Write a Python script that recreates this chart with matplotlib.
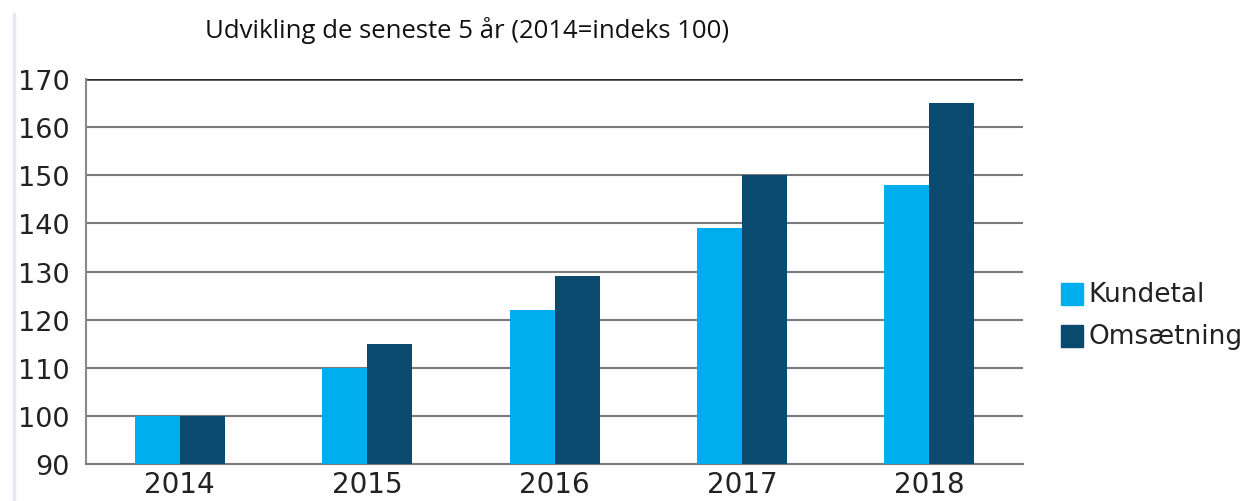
import matplotlib
matplotlib.use("Agg")
import matplotlib.pyplot as plt
from matplotlib.lines import Line2D
import numpy as np

years = ["2014", "2015", "2016", "2017", "2018"]
kundetal = [100, 110, 122, 139, 148]
omsaetning = [100, 115, 129, 150, 165]
series_names = ["Kundetal", "Omsætning"]
colors = ["#00AEEF", "#0B4A6F"]
yticks = [90, 100, 110, 120, 130, 140, 150, 160, 170]
title = "Udvikling de seneste 5 år (2014=indeks 100)"

fig = plt.figure(figsize=(12.59, 5.02), dpi=100)
ax = fig.add_axes([0.0683, 0.0737, 0.7443, 0.7669])

x = np.arange(len(years))
w = 0.24
ax.bar(x - w/2, np.array(kundetal) - 90, w, bottom=90, color=colors[0], zorder=3)
ax.bar(x + w/2, np.array(omsaetning) - 90, w, bottom=90, color=colors[1], zorder=3)

ax.set_xlim(-0.5, 4.5)
ax.set_ylim(90, 170)
ax.set_yticks(yticks)
ax.set_xticks(x)
ax.set_xticklabels(years)
for yv in yticks[1:-1]:
    ax.axhline(yv, color="#7a7a7a", lw=1.5, zorder=1)
ax.axhline(170, color="#2a2a2a", lw=1.8, zorder=1)

for s in ["top", "right"]:
    ax.spines[s].set_visible(False)
ax.spines["left"].set_color("#8a8a8a")
ax.spines["left"].set_linewidth(1.5)
ax.spines["bottom"].set_color("#7a7a7a")
ax.spines["bottom"].set_linewidth(1.5)
ax.tick_params(axis="y", length=0, labelsize=19.5, colors="#222222", pad=12)
ax.tick_params(axis="x", length=0, labelsize=20, colors="#222222", pad=4)
for lab in ax.get_xticklabels() + ax.get_yticklabels():
    lab.set_family("DejaVu Sans")

fig.text(0.163, 0.94, title, fontsize=18.5, family="Open Sans", color="#111111", va="center", ha="left")

fig.add_artist(Line2D([0.011, 0.011], [0.0, 0.97], transform=fig.transFigure,
                      color="#e6e8f4", lw=2.5))

for i, (name, c) in enumerate(zip(series_names, colors)):
    yf = 1 - (295 + 42 * i) / 502
    fig.add_artist(Line2D([1072 / 1259], [yf], marker="s", markersize=16,
                          color=c, transform=fig.transFigure, linestyle="none"))
    fig.text(1088 / 1259, yf, name, fontsize=19, family="DejaVu Sans",
             color="#222222", va="center", ha="left")

fig.savefig("out.png", dpi=100, facecolor="white")
